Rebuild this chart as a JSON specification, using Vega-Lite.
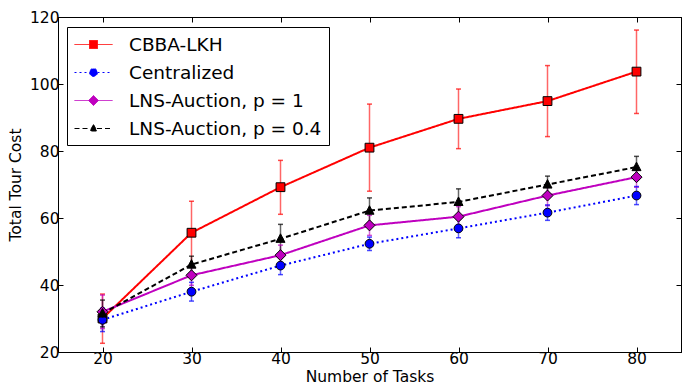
{
  "$schema": "https://vega.github.io/schema/vega-lite/v6.json",
  "width": 623,
  "height": 335,
  "autosize": {"type": "none"},
  "padding": {"left": 58, "top": 17, "right": 1, "bottom": 35},
  "config": {
    "font": "DejaVu Sans",
    "view": {"stroke": "#000000", "strokeWidth": 1},
    "axis": {
      "domainColor": "#000000",
      "tickColor": "#000000",
      "labelColor": "#000000",
      "titleColor": "#000000",
      "labelFontSize": 15.5,
      "titleFontSize": 15.5,
      "titleFontWeight": "normal",
      "grid": false,
      "tickSize": -5,
      "labelPadding": 4
    }
  },
  "data": {
    "values": [
      {"tasks": 20, "method": "CBBA-LKH", "cost": 30.0, "lo": 22.6, "hi": 37.3},
      {"tasks": 30, "method": "CBBA-LKH", "cost": 55.6, "lo": 46.2, "hi": 65.0},
      {"tasks": 40, "method": "CBBA-LKH", "cost": 69.2, "lo": 61.1, "hi": 77.2},
      {"tasks": 50, "method": "CBBA-LKH", "cost": 81.0, "lo": 68.0, "hi": 94.0},
      {"tasks": 60, "method": "CBBA-LKH", "cost": 89.6, "lo": 80.7, "hi": 98.5},
      {"tasks": 70, "method": "CBBA-LKH", "cost": 94.9, "lo": 84.3, "hi": 105.5},
      {"tasks": 80, "method": "CBBA-LKH", "cost": 103.7, "lo": 91.2, "hi": 116.1},
      {"tasks": 20, "method": "Centralized", "cost": 29.6, "lo": 26.1, "hi": 33.1},
      {"tasks": 30, "method": "Centralized", "cost": 38.0, "lo": 35.2, "hi": 40.8},
      {"tasks": 40, "method": "Centralized", "cost": 45.8, "lo": 43.1, "hi": 48.5},
      {"tasks": 50, "method": "Centralized", "cost": 52.3, "lo": 50.3, "hi": 54.3},
      {"tasks": 60, "method": "Centralized", "cost": 56.9, "lo": 54.1, "hi": 59.7},
      {"tasks": 70, "method": "Centralized", "cost": 61.6, "lo": 59.3, "hi": 63.9},
      {"tasks": 80, "method": "Centralized", "cost": 66.7, "lo": 64.0, "hi": 69.4},
      {"tasks": 20, "method": "LNS-Auction, p = 1", "cost": 32.0, "lo": 27.0, "hi": 37.0},
      {"tasks": 30, "method": "LNS-Auction, p = 1", "cost": 42.9, "lo": 39.9, "hi": 45.9},
      {"tasks": 40, "method": "LNS-Auction, p = 1", "cost": 48.9, "lo": 45.9, "hi": 51.9},
      {"tasks": 50, "method": "LNS-Auction, p = 1", "cost": 57.8, "lo": 54.8, "hi": 60.8},
      {"tasks": 60, "method": "LNS-Auction, p = 1", "cost": 60.4, "lo": 57.4, "hi": 63.4},
      {"tasks": 70, "method": "LNS-Auction, p = 1", "cost": 66.7, "lo": 63.7, "hi": 69.7},
      {"tasks": 80, "method": "LNS-Auction, p = 1", "cost": 72.2, "lo": 69.2, "hi": 75.2},
      {"tasks": 20, "method": "LNS-Auction, p = 0.4", "cost": 31.5, "lo": 27.5, "hi": 35.5},
      {"tasks": 30, "method": "LNS-Auction, p = 0.4", "cost": 46.1, "lo": 43.6, "hi": 48.6},
      {"tasks": 40, "method": "LNS-Auction, p = 0.4", "cost": 53.8, "lo": 49.5, "hi": 58.1},
      {"tasks": 50, "method": "LNS-Auction, p = 0.4", "cost": 62.2, "lo": 58.4, "hi": 66.0},
      {"tasks": 60, "method": "LNS-Auction, p = 0.4", "cost": 64.8, "lo": 60.9, "hi": 68.7},
      {"tasks": 70, "method": "LNS-Auction, p = 0.4", "cost": 70.0, "lo": 67.5, "hi": 72.5},
      {"tasks": 80, "method": "LNS-Auction, p = 0.4", "cost": 75.2, "lo": 72.0, "hi": 78.4}
    ]
  },
  "resolve": {"axis": {"x": "independent", "y": "independent"}},
  "layer": [
    {
      "mark": {"type": "rule", "strokeOpacity": 0.6, "strokeWidth": 1.5},
      "encoding": {
        "x": {"field": "tasks", "type": "quantitative", "scale": {"domain": [15, 85], "nice": false, "zero": false},
              "axis": {"orient": "bottom", "values": [20, 30, 40, 50, 60, 70, 80], "title": "Number of Tasks", "titlePadding": 3}},
        "y": {"field": "lo", "type": "quantitative", "scale": {"domain": [20, 120], "nice": false, "zero": false},
              "axis": {"orient": "left", "values": [20, 40, 60, 80, 100, 120], "title": "Total Tour Cost", "titlePadding": 6}},
        "y2": {"field": "hi"},
        "color": {
          "field": "method", "type": "nominal",
          "scale": {"domain": ["CBBA-LKH", "Centralized", "LNS-Auction, p = 1", "LNS-Auction, p = 0.4"],
                    "range": ["#ff0000", "#0000ff", "#bf00bf", "#000000"]},
          "legend": {
            "title": null, "orient": "none", "legendX": 9, "legendY": 10,
            "direction": "vertical",
            "strokeColor": "#000000", "fillColor": "#ffffff", "padding": 7, "cornerRadius": 0,
            "labelFontSize": 18.5, "labelColor": "#000000", "labelOffset": 34, "rowPadding": 8,
            "symbolSize": 400, "symbolStrokeWidth": 1, "labelLimit": 400,
            "encode": {
              "symbols": {
                "update": {
                  "shape": {"signal": "datum.value === 'CBBA-LKH' ? 'M-1,0H0.5M1.3,0H2.8M0.5,-0.4H1.3V0.4H0.5Z' : datum.value === 'Centralized' ? 'M-1,0H0.5M1.3,0H2.8M0.5,0A0.4,0.4 0 1,0 1.3,0A0.4,0.4 0 1,0 0.5,0Z' : datum.value === 'LNS-Auction, p = 1' ? 'M-1,0H0.4M1.4,0H2.8M0.9,-0.5L1.4,0L0.9,0.5L0.4,0Z' : 'M-1,0H0.55M1.25,0H2.8M0.9,-0.4L1.25,0.25L0.55,0.25Z'"},
                  "fill": {"signal": "datum.value === 'CBBA-LKH' ? '#ff0000' : datum.value === 'Centralized' ? '#0000ff' : datum.value === 'LNS-Auction, p = 1' ? '#bf00bf' : '#000000'"},
                  "stroke": {"signal": "datum.value === 'CBBA-LKH' ? '#ff0000' : datum.value === 'Centralized' ? '#0000ff' : datum.value === 'LNS-Auction, p = 1' ? '#bf00bf' : '#000000'"},
                  "strokeWidth": {"value": 1},
                  "opacity": {"value": 1},
                  "fillOpacity": {"value": 1},
                  "strokeOpacity": {"value": 1}
                }
              }
            }
          }
        }
      }
    },
    {
      "mark": {"type": "tick", "orient": "horizontal", "strokeOpacity": 0.6, "size": 5, "thickness": 1.5},
      "encoding": {
        "x": {"field": "tasks", "type": "quantitative", "axis": null},
        "y": {"field": "lo", "type": "quantitative", "axis": null},
        "color": {"field": "method", "type": "nominal"}
      }
    },
    {
      "mark": {"type": "tick", "orient": "horizontal", "strokeOpacity": 0.6, "size": 5, "thickness": 1.5},
      "encoding": {
        "x": {"field": "tasks", "type": "quantitative", "axis": null},
        "y": {"field": "hi", "type": "quantitative", "axis": null},
        "color": {"field": "method", "type": "nominal"}
      }
    },
    {
      "mark": {"type": "line", "strokeWidth": 2},
      "encoding": {
        "x": {"field": "tasks", "type": "quantitative",
              "axis": {"orient": "top", "values": [20, 30, 40, 50, 60, 70, 80], "labels": false, "title": null}},
        "y": {"field": "cost", "type": "quantitative",
              "axis": {"orient": "right", "values": [20, 40, 60, 80, 100, 120], "labels": false, "title": null}},
        "color": {"field": "method", "type": "nominal"},
        "strokeDash": {
          "field": "method", "type": "nominal",
          "scale": {"domain": ["CBBA-LKH", "Centralized", "LNS-Auction, p = 1", "LNS-Auction, p = 0.4"],
                    "range": [[1, 0], [2, 3], [1, 0], [5, 3]]}
        }
      }
    },
    {
      "transform": [{"filter": "datum.method === 'CBBA-LKH'"}],
      "mark": {"type": "point", "shape": "M-0.8,-0.8H0.8V0.8H-0.8Z", "fill": "#ff0000", "filled": true, "stroke": "#000000", "strokeWidth": 1, "opacity": 1, "size": 121},
      "encoding": {
        "x": {"field": "tasks", "type": "quantitative", "axis": null},
        "y": {"field": "cost", "type": "quantitative", "axis": null}
      }
    },
    {
      "transform": [{"filter": "datum.method === 'Centralized'"}],
      "mark": {"type": "point", "shape": "M-0.8,0A0.8,0.8 0 1,0 0.8,0A0.8,0.8 0 1,0 -0.8,0Z", "fill": "#0000ff", "filled": true, "stroke": "#000000", "strokeWidth": 1, "opacity": 1, "size": 121},
      "encoding": {
        "x": {"field": "tasks", "type": "quantitative", "axis": null},
        "y": {"field": "cost", "type": "quantitative", "axis": null}
      }
    },
    {
      "transform": [{"filter": "datum.method === 'LNS-Auction, p = 1'"}],
      "mark": {"type": "point", "shape": "M0,-1L1,0L0,1L-1,0Z", "fill": "#bf00bf", "filled": true, "stroke": "#000000", "strokeWidth": 1, "opacity": 1, "size": 121},
      "encoding": {
        "x": {"field": "tasks", "type": "quantitative", "axis": null},
        "y": {"field": "cost", "type": "quantitative", "axis": null}
      }
    },
    {
      "transform": [{"filter": "datum.method === 'LNS-Auction, p = 0.4'"}],
      "mark": {"type": "point", "shape": "M0,-0.9L0.82,0.65L-0.82,0.65Z", "fill": "#000000", "filled": true, "stroke": "#000000", "strokeWidth": 1, "opacity": 1, "size": 121},
      "encoding": {
        "x": {"field": "tasks", "type": "quantitative", "axis": null},
        "y": {"field": "cost", "type": "quantitative", "axis": null}
      }
    }
  ]
}
